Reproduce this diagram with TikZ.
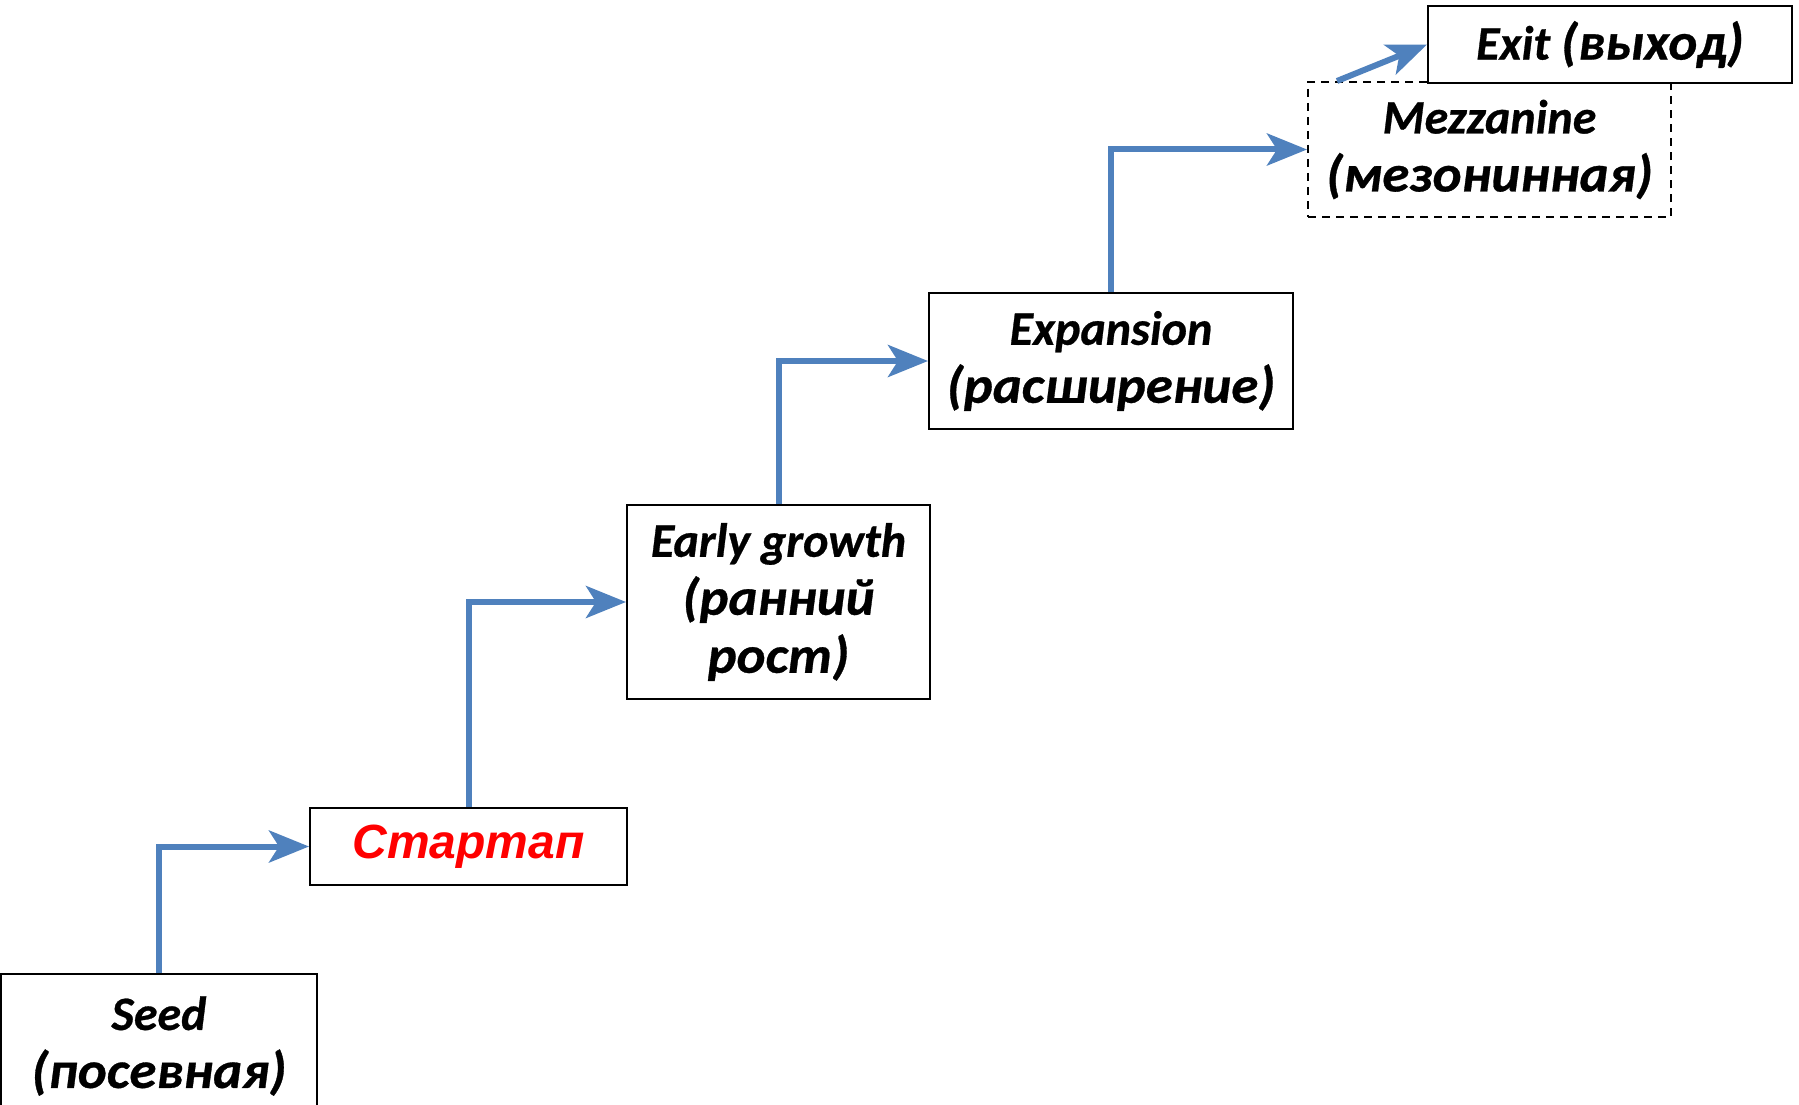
\documentclass[tikz,border=0pt]{standalone}
\usepackage{fontspec}
\setmainfont{Carlito}[BoldItalicFeatures={FakeBold=0.6}]
\newfontfamily\cyrf{Carlito}[FakeStretch=1.055, BoldItalicFeatures={FakeBold=0.6}]
\newfontfamily\arialf{Liberation Sans}
\newcommand{\cy}[1]{{\fontsize{52}{58}\selectfont\cyrf\bfseries\itshape #1}}
\usetikzlibrary{arrows.meta}
\definecolor{arrblue}{RGB}{79,129,189}
\definecolor{startred}{RGB}{255,0,0}
\tikzset{
  stagebox/.style={draw=black, line width=2pt, fill=white, inner sep=0pt, align=center,
    font=\fontsize{48}{58}\selectfont\bfseries\itshape},
  dashbox/.style={stagebox, dash pattern=on 8pt off 6pt},
  flow/.style={draw=arrblue, line width=6pt, line join=miter,
    -{Stealth[length=40pt, width=32pt, inset=10pt]}},
}
\begin{document}
\begin{tikzpicture}[x=1pt, y=-1pt]
\clip (0,0) rectangle (1799,1105);
\useasboundingbox (0,0) rectangle (1799,1105);
\fill[white] (0,0) rectangle (1799,1105);

\node[stagebox, minimum width=316pt, minimum height=144pt] (seed) at (159,1046) {Seed\\\cy{(посевная)}};
\node[stagebox, minimum width=317pt, minimum height=77pt, text=startred,
      font=\fontsize{48}{58}\selectfont\arialf\bfseries\itshape] (startap) at (468.5,846.5) {Стартап};
\node[stagebox, minimum width=303pt, minimum height=194pt] (early) at (778.5,602) {Early growth\\\cy{(ранний}\\\cy{рост)}};
\node[stagebox, minimum width=364pt, minimum height=136pt] (exp) at (1111,361) {Expansion\\\cy{(расширение)}};
\node[dashbox, minimum width=363pt, minimum height=135pt] (mezz) at (1489.5,149.5) {Mezzanine\\\cy{(мезонинная)}};
\node[stagebox, minimum width=364pt, minimum height=77pt] (exit) at (1610,44.5) {Exit \cy{(выход)}};

\coordinate (mezzout) at ([xshift=30pt]mezz.north west);

\draw[flow] (seed.north) |- (startap.west);
\draw[flow] (startap.north) |- (early.west);
\draw[flow] (early.north) |- (exp.west);
\draw[flow] (exp.north) |- (mezz.west);
\draw[flow] (mezzout) -- (exit.west);
\end{tikzpicture}
\end{document}
